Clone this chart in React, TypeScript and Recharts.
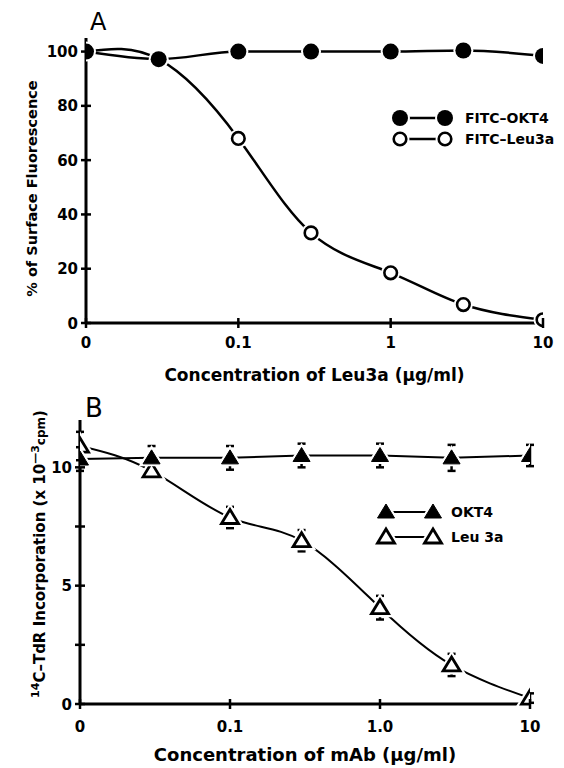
import { ErrorBar, Label, Legend, Line, LineChart, XAxis, YAxis } from "recharts";

const FONT = "'DejaVu Sans', 'Liberation Sans', sans-serif";
const TICK_SIZE = 6;
const TICK_MARGIN = 4;

// mAb concentration (ug/ml); the "0" control sits at the 0.01 position of the log axis
const concentrations = [0.01, 0.03, 0.1, 0.3, 1, 3, 10];

// panel A: % of surface fluorescence
const okt4Fluorescence = [100, 97.2, 100, 100, 100, 100.4, 98.4];
const leu3aFluorescence = [100, 97.2, 68, 33.2, 18.5, 6.8, 1.2];

// panel B: 14C-TdR incorporation (x 10^-3 cpm), mean and error
const okt4Incorporation = [10.35, 10.4, 10.4, 10.5, 10.5, 10.4, 10.5];
const okt4Error = [0.5, 0.5, 0.5, 0.5, 0.5, 0.55, 0.45];
const leu3aIncorporation = [10.9, 9.85, 7.88, 6.9, 4.07, 1.65, 0.25];
const leu3aError = [0.6, 0.3, 0.45, 0.45, 0.5, 0.47, 0.2];

const xTicks = [0.01, 0.1, 1, 10];
const xTickLabelsA = ["0", "0.1", "1", "10"];
const xTickLabelsB = ["0", "0.1", "1.0", "10"];
const yTicksA = [0, 20, 40, 60, 80, 100];
const yTickLabelsA = ["0", "20", "40", "60", "80", "100"];
const yTicksB = [0, 2.5, 5, 7.5, 10];
const yTickLabelsB = ["0", "", "5", "", "10"];

const dataA = concentrations.map((c, i) => ({
  conc: c,
  okt4: okt4Fluorescence[i],
  leu3a: leu3aFluorescence[i],
}));

const dataB = concentrations.map((c, i) => ({
  conc: c,
  okt4: okt4Incorporation[i],
  okt4Err: okt4Error[i],
  leu3a: leu3aIncorporation[i],
  leu3aErr: leu3aError[i],
}));

// ---- markers ----
function FilledCircle({ cx, cy }: { cx: number; cy: number }) {
  return (
    <g>
      <circle cx={cx} cy={cy} r={10} fill="#fff" />
      <circle cx={cx} cy={cy} r={8} fill="#000" />
    </g>
  );
}

function OpenCircle({ cx, cy }: { cx: number; cy: number }) {
  return (
    <g>
      <circle cx={cx} cy={cy} r={9.5} fill="#fff" />
      <circle cx={cx} cy={cy} r={6.3} fill="#fff" stroke="#000" strokeWidth={2.6} />
    </g>
  );
}

function triPoints(cx: number, cy: number) {
  return `${cx},${cy - 8} ${cx - 8.5},${cy + 6} ${cx + 8.5},${cy + 6}`;
}

function FilledTriangle({ cx, cy }: { cx: number; cy: number }) {
  return (
    <g>
      <polygon points={triPoints(cx, cy)} fill="#fff" stroke="#fff" strokeWidth={5} />
      <polygon points={triPoints(cx, cy)} fill="#000" stroke="#000" strokeWidth={1} />
    </g>
  );
}

function OpenTriangle({ cx, cy }: { cx: number; cy: number }) {
  return (
    <g>
      <polygon points={triPoints(cx, cy)} fill="#fff" stroke="#fff" strokeWidth={7} />
      <polygon points={triPoints(cx, cy)} fill="#fff" stroke="#000" strokeWidth={2.8} />
    </g>
  );
}

// ---- axis ticks that cross the axis line ----
function makeXTick(labels: string[], dy: number) {
  return function XTick(props: any) {
    const { x, y, payload, index } = props;
    const axisY = y - TICK_SIZE - TICK_MARGIN;
    let i = xTicks.indexOf(payload.value);
    if (i < 0) i = index;
    return (
      <g>
        <line x1={x} x2={x} y1={axisY - 5} y2={axisY + 5} stroke="#000" strokeWidth={2.5} />
        <text x={x} y={axisY + dy} textAnchor="middle" fontFamily={FONT} fontWeight="bold" fontSize={15} fill="#000">
          {labels[i] ?? ""}
        </text>
      </g>
    );
  };
}

function makeYTick(ticks: number[], labels: string[]) {
  return function YTick(props: any) {
    const { x, y, payload, index } = props;
    const axisX = x + TICK_SIZE + TICK_MARGIN;
    let i = ticks.indexOf(payload.value);
    if (i < 0) i = index;
    return (
      <g>
        <line x1={axisX - 5} x2={axisX + 5} y1={y} y2={y} stroke="#000" strokeWidth={2.5} />
        <text x={axisX - 8} y={y + 5.5} textAnchor="end" fontFamily={FONT} fontWeight="bold" fontSize={15} fill="#000">
          {labels[i] ?? ""}
        </text>
      </g>
    );
  };
}

type LegendEntry = { name: string; Marker: (p: { cx: number; cy: number }) => any };

function makeLegend(entries: LegendEntry[], gap: number, rowGap: number, textGap: number, lineWidth: number) {
  return function LegendBox() {
    return (
      <svg width={190} height={60} style={{ overflow: "visible", display: "block" }}>
        {entries.map((e, i) => {
          const y = 10 + i * rowGap;
          return (
            <g key={e.name}>
              <line x1={10} x2={10 + gap} y1={y} y2={y} stroke="#000" strokeWidth={lineWidth} />
              <e.Marker cx={10} cy={y} />
              <e.Marker cx={10 + gap} cy={y} />
              <text x={10 + gap + textGap} y={y + 5} fontFamily={FONT} fontWeight="bold" fontSize={14} fill="#000">
                {e.name}
              </text>
            </g>
          );
        })}
      </svg>
    );
  };
}

const legendA = makeLegend(
  [
    { name: "FITC–OKT4", Marker: FilledCircle },
    { name: "FITC–Leu3a", Marker: OpenCircle },
  ],
  45, 21, 20, 2.5
);

const legendB = makeLegend(
  [
    { name: "OKT4", Marker: FilledTriangle },
    { name: "Leu 3a", Marker: OpenTriangle },
  ],
  47, 25, 18, 2
);

const axisLine = { stroke: "#000", strokeWidth: 3 };

export default function App() {
  return (
    <div style={{ position: "absolute", left: 0, top: 0, width: 564, height: 768, background: "#fff" }}>
      <div style={{ position: "absolute", left: 0, top: 0 }}>
        <LineChart width={564} height={390} data={dataA} margin={{ top: 38, right: 21, left: 26, bottom: 37 }}>
          <XAxis
            dataKey="conc"
            type="number"
            scale="log"
            domain={[0.01, 10]}
            ticks={xTicks}
            interval={0}
            allowDataOverflow
            height={30}
            axisLine={axisLine}
            tickLine={false}
            tickSize={TICK_SIZE}
            tickMargin={TICK_MARGIN}
            tick={makeXTick(xTickLabelsA, 25)}
          >
            <Label
              content={(p: any) => (
                <text
                  x={p.viewBox.x + p.viewBox.width / 2}
                  y={p.viewBox.y + 58}
                  textAnchor="middle"
                  fontFamily={FONT}
                  fontWeight="bold"
                  fontSize={17}
                  fill="#000"
                >
                  Concentration of Leu3a (μg/ml)
                </text>
              )}
            />
          </XAxis>
          <YAxis
            type="number"
            domain={[0, 105]}
            ticks={yTicksA}
            interval={0}
            width={60}
            axisLine={axisLine}
            tickLine={false}
            tickSize={TICK_SIZE}
            tickMargin={TICK_MARGIN}
            tick={makeYTick(yTicksA, yTickLabelsA)}
          >
            <Label
              content={(p: any) => {
                const x = p.viewBox.x + 11;
                const y = p.viewBox.y + p.viewBox.height / 2 + 8;
                return (
                  <text
                    x={x}
                    y={y}
                    transform={`rotate(-90 ${x} ${y})`}
                    textAnchor="middle"
                    fontFamily={FONT}
                    fontWeight="bold"
                    fontSize={14.5}
                    fill="#000"
                  >
                    % of Surface Fluorescence
                  </text>
                );
              }}
            />
          </YAxis>
          <Legend content={legendA} layout="vertical" align="center" verticalAlign="middle" wrapperStyle={{ left: 390, top: 108, width: 190 }} />
          <Line
            type="natural"
            dataKey="leu3a"
            name="FITC–Leu3a"
            stroke="#000"
            strokeWidth={2.5}
            dot={(p: any) => <OpenCircle key={`a-leu-${p.index}`} cx={p.cx} cy={p.cy} />}
            activeDot={false}
            isAnimationActive={false}
          />
          <Line
            type="monotone"
            dataKey="okt4"
            name="FITC–OKT4"
            stroke="#000"
            strokeWidth={2.5}
            dot={(p: any) => <FilledCircle key={`a-okt-${p.index}`} cx={p.cx} cy={p.cy} />}
            activeDot={false}
            isAnimationActive={false}
          />
        </LineChart>
      </div>

      <div style={{ position: "absolute", left: 0, top: 390 }}>
        <LineChart width={564} height={378} data={dataB} margin={{ top: 30, right: 34, left: 20, bottom: 34 }}>
          <XAxis
            dataKey="conc"
            type="number"
            scale="log"
            domain={[0.01, 10]}
            ticks={xTicks}
            interval={0}
            allowDataOverflow
            height={30}
            axisLine={axisLine}
            tickLine={false}
            tickSize={TICK_SIZE}
            tickMargin={TICK_MARGIN}
            tick={makeXTick(xTickLabelsB, 28)}
          >
            <Label
              content={(p: any) => (
                <text
                  x={p.viewBox.x + p.viewBox.width / 2}
                  y={p.viewBox.y + 57}
                  textAnchor="middle"
                  fontFamily={FONT}
                  fontWeight="bold"
                  fontSize={18}
                  fill="#000"
                >
                  Concentration of mAb (μg/ml)
                </text>
              )}
            />
          </XAxis>
          <YAxis
            type="number"
            domain={[0, 12]}
            ticks={yTicksB}
            interval={0}
            width={60}
            axisLine={axisLine}
            tickLine={false}
            tickSize={TICK_SIZE}
            tickMargin={TICK_MARGIN}
            tick={makeYTick(yTicksB, yTickLabelsB)}
          >
            <Label
              content={(p: any) => {
                const x = p.viewBox.x + 25;
                const y = p.viewBox.y + p.viewBox.height / 2 - 8;
                return (
                  <text
                    x={x}
                    y={y}
                    transform={`rotate(-90 ${x} ${y})`}
                    textAnchor="middle"
                    fontFamily={FONT}
                    fontWeight="bold"
                    fontSize={15}
                    fill="#000"
                  >
                    <tspan fontSize={11} dy={-6}>14</tspan>
                    <tspan dy={6}>C–TdR Incorporation (x 10</tspan>
                    <tspan fontSize={11} dy={-6}>—3</tspan>
                    <tspan fontSize={12} dy={6}>cpm</tspan>
                    <tspan>)</tspan>
                  </text>
                );
              }}
            />
          </YAxis>
          <Legend content={legendB} layout="vertical" align="center" verticalAlign="middle" wrapperStyle={{ left: 376, top: 112, width: 190 }} />
          {/* error bars first, so the marker halos sit on top of their stems */}
          <Line dataKey="leu3a" stroke="none" dot={false} activeDot={false} legendType="none" isAnimationActive={false}>
            <ErrorBar dataKey="leu3aErr" direction="y" width={4} stroke="#000" strokeWidth={2.5} />
          </Line>
          <Line dataKey="okt4" stroke="none" dot={false} activeDot={false} legendType="none" isAnimationActive={false}>
            <ErrorBar dataKey="okt4Err" direction="y" width={4} stroke="#000" strokeWidth={2.5} />
          </Line>
          <Line
            type="natural"
            dataKey="leu3a"
            name="Leu 3a"
            stroke="#000"
            strokeWidth={2}
            dot={(p: any) => <OpenTriangle key={`b-leu-${p.index}`} cx={p.cx} cy={p.cy} />}
            activeDot={false}
            isAnimationActive={false}
          />
          <Line
            type="linear"
            dataKey="okt4"
            name="OKT4"
            stroke="#000"
            strokeWidth={2}
            dot={(p: any) => <FilledTriangle key={`b-okt-${p.index}`} cx={p.cx} cy={p.cy} />}
            activeDot={false}
            isAnimationActive={false}
          />
        </LineChart>
      </div>

      <div style={{ position: "absolute", left: 90, top: 8, fontFamily: FONT, fontSize: 24, lineHeight: "28px" }}>A</div>
      <div style={{ position: "absolute", left: 85, top: 393, fontFamily: FONT, fontSize: 26, lineHeight: "30px" }}>B</div>
    </div>
  );
}
